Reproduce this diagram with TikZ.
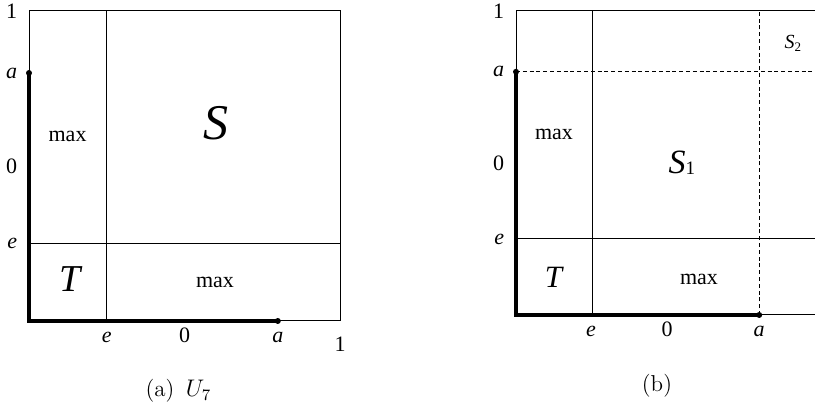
\documentclass[tikz,border=0pt]{standalone}
\usepackage{fontspec}
\newfontfamily\labfont{Liberation Serif}
\tikzset{
  cell/.style={line width=0.5pt},
  cut/.style={line width=0.5pt, dash pattern=on 2pt off 1.4pt},
  rim/.style={line width=2pt},
  num/.style={font=\labfont\fontsize{11}{13}\selectfont, inner sep=0pt},
  var/.style={font=\labfont\itshape\fontsize{11}{13}\selectfont, inner sep=0pt},
  big/.style={font=\labfont\itshape\fontsize{#1}{#1}\selectfont, inner sep=0pt},
  captext/.style={font=\fontsize{11.5}{14}\selectfont, inner sep=0pt},
}
\begin{document}
\begin{tikzpicture}[x=0.5pt,y=0.5pt]
\useasboundingbox (0,0) rectangle (815,405);

% (a)
\begin{scope}[xshift=14.5pt, yshift=42pt, x=155.5pt, y=155pt]
  \draw[cell] (0,0) rectangle (1,1);
  \draw[cell] (0.25,0) -- (0.25,1);
  \draw[cell] (0,0.25) -- (1,0.25);
  \draw[rim] (0,0.8) -- (0,0) -- (0.8,0);
  \fill (0,0.8) circle (1.5pt) (0.8,0) circle (1.5pt);
  \node[num, left=5.75pt] (al1) at (0,1) {1};
  \node[var, left=5.75pt] (ala) at (0,0.8) {a};
  \node[num, left=5.75pt] (al0) at (0,0.5) {0};
  \node[var, left=5.75pt] (ale) at (0,0.25) {e};
  \node[var, anchor=base] (abe) at (0.25,-0.068) {e};
  \node[num, anchor=base] (ab0) at (0.5,-0.068) {0};
  \node[var, anchor=base] (aba) at (0.8,-0.068) {a};
  \node[num, anchor=base] (ab1) at (1,-0.1) {1};
  \node[num] (amaxl) at (0.124,0.594) {max};
  \node[num] (amaxb) at (0.598,0.123) {max};
  \node[big=25] (aS) at (0.6,0.637) {S};
  \node[big=19] (aT) at (0.132,0.135) {T};
\end{scope}
\node[captext, anchor=base] (capa) at (178.5,8.5) {(a)\enspace$U_7$};

% (b)
\begin{scope}[xshift=258pt, yshift=45pt, x=152pt, y=152pt]
  \draw[cell] (0.984,0) -- (0,0) -- (0,1) -- (0.984,1);
  \draw[cell] (0.25,0) -- (0.25,1);
  \draw[cell] (0,0.25) -- (0.984,0.25);
  \draw[cut] (0.8,0) -- (0.8,1);
  \draw[cut] (0,0.8) -- (0.984,0.8);
  \draw[rim] (0,0.8) -- (0,0) -- (0.8,0);
  \fill (0,0.8) circle (1.5pt) (0.8,0) circle (1.5pt);
  \node[num, left=5.75pt] (bl1) at (0,1) {1};
  \node[var, left=5.75pt] (bla) at (0,0.8) {a};
  \node[num, left=5.75pt] (bl0) at (0,0.5) {0};
  \node[var, left=5.75pt] (ble) at (0,0.25) {e};
  \node[var, anchor=base] (bbe) at (0.247,-0.072) {e};
  \node[num, anchor=base] (bb0) at (0.497,-0.072) {0};
  \node[var, anchor=base] (bba) at (0.8,-0.072) {a};
  \node[num] (bmaxl) at (0.125,0.595) {max};
  \node[num] (bmaxb) at (0.602,0.118) {max};
  \node[big=15.5] (bT) at (0.123,0.125) {T};
  \node[big=17, anchor=base] (bS1) at (0.546,0.467)
    {S\raisebox{-0.8pt}{\upshape\fontsize{9.5}{10}\selectfont 1}};
  \node[big=10, anchor=base] (bS2) at (0.911,0.878)
    {S\raisebox{-1.5pt}{\upshape\fontsize{6.5}{7}\selectfont 2}};
\end{scope}
\node[captext, anchor=base] (capb) at (657,13.5) {(b)};
\end{tikzpicture}
\end{document}
